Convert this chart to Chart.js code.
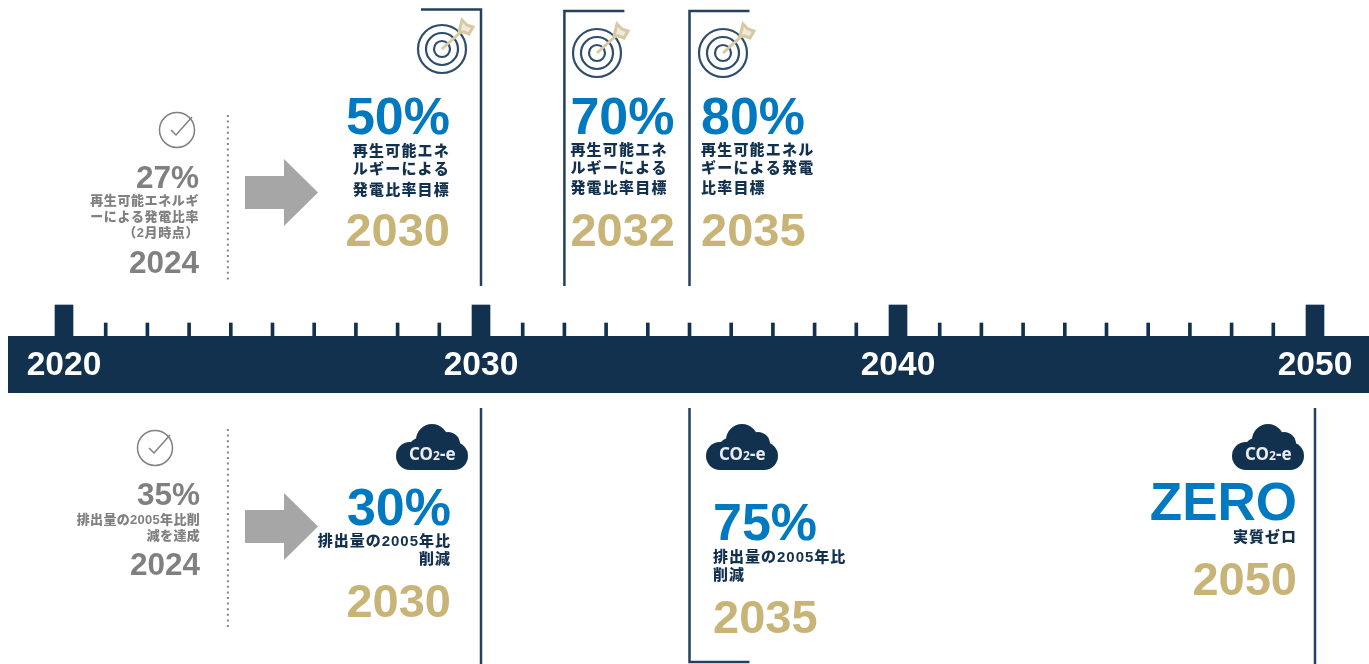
<!DOCTYPE html>
<html lang="ja">
<head>
<meta charset="utf-8">
<title>再生可能エネルギーと排出量の目標</title>
<script src="https://cdn.jsdelivr.net/npm/chart.js@4"></script>
<style>
  html, body { margin: 0; padding: 0; background: #fff; }
  canvas { display: block; }
</style>
</head>
<body>
<canvas id="timeline" width="1369" height="664"></canvas>
<script>
// Timeline values
const decadeYears = [2020, 2030, 2040, 2050];
const minorYears = [];
for (let y = 2021; y < 2050; y++) if (y % 10 !== 0) minorYears.push(y);

// Renewable share targets (above the band)
const renewYears = [2030, 2032, 2035];
const renewTargets = [50, 70, 80];
const renewCaptions = [
  ['再生可能エネ', 'ルギーによる', '発電比率目標'],
  ['再生可能エネ', 'ルギーによる', '発電比率目標'],
  ['再生可能エネル', 'ギーによる発電', '比率目標']
];

// Emission targets (below the band)
const emissionYears = [2030, 2035, 2050];
const emissionTargets = ['30%', '75%', 'ZERO'];
const emissionCaptions = [
  ['排出量の2005年比', '削減'],
  ['排出量の2005年比', '削減'],
  ['実質ゼロ']
];

// Where things stood in 2024
const statusYear = 2024;
const renewStatus = 27;
const renewStatusCaption = ['再生可能エネルギ', 'ーによる発電比率', '（2月時点）'];
const emissionStatus = 35;
const emissionStatusCaption = ['排出量の2005年比削', '減を達成'];

// Colours
const NAVY = '#12314f';
const RULE = '#23415f';
const BLUE = '#0079c1';
const GOLD = '#c9b477';
const GREY = '#808080';
const ARROW = '#a6a6a6';
const TAN = '#d6caa4';

const SANS = '"Liberation Sans", "Noto Sans CJK JP", sans-serif';

// x scale: 41.7px per year, filling the canvas
const pxPerYear = 41.7;
const xMin = 2020 - 64 / pxPerYear;
const xMax = xMin + 1369 / pxPerYear;
const flagYears = 60 / pxPerYear;
const separatorYear = 2023.93;

function ruleDataset(points) {
  return {
    type: 'line',
    data: points,
    borderColor: RULE,
    borderWidth: 2.5,
    pointRadius: 0,
    borderJoinStyle: 'miter',
    borderCapStyle: 'butt',
    order: 3
  };
}

function dottedDataset(y1, y2) {
  return {
    type: 'line',
    data: [{ x: separatorYear, y: y1 }, { x: separatorYear, y: y2 }],
    borderColor: '#858585',
    borderWidth: 2,
    borderDash: [2, 3.6],
    pointRadius: 0,
    order: 3
  };
}

const datasets = [
  // the navy band
  {
    type: 'line',
    data: [{ x: xMin + 8 / pxPerYear, y: 364.5 }, { x: xMax, y: 364.5 }],
    borderColor: NAVY,
    borderWidth: 57,
    borderCapStyle: 'butt',
    pointRadius: 0,
    order: 5
  },
  // thick ticks on each decade
  {
    type: 'bar',
    data: decadeYears.map(y => ({ x: y, y: [305, 337] })),
    backgroundColor: NAVY,
    barThickness: 18,
    grouped: false,
    order: 4
  },
  // small ticks on every other year
  {
    type: 'bar',
    data: minorYears.map(y => ({ x: y, y: [323, 337] })),
    backgroundColor: NAVY,
    barThickness: 3,
    grouped: false,
    order: 4
  },
  // target rules above the band, with their flags
  ruleDataset([{ x: 2030 - flagYears, y: 9.5 }, { x: 2030, y: 9.5 }, { x: 2030, y: 286 }]),
  ruleDataset([{ x: 2032 + flagYears, y: 11 }, { x: 2032, y: 11 }, { x: 2032, y: 286 }]),
  ruleDataset([{ x: 2035 + flagYears, y: 11 }, { x: 2035, y: 11 }, { x: 2035, y: 286 }]),
  // target rules below the band
  ruleDataset([{ x: 2030, y: 408 }, { x: 2030, y: 664 }]),
  ruleDataset([{ x: 2035, y: 408 }, { x: 2035, y: 662 }, { x: 2035 + flagYears, y: 662 }]),
  ruleDataset([{ x: 2050, y: 408 }, { x: 2050, y: 664 }]),
  // dotted separators next to the 2024 status
  dottedDataset(115, 283),
  dottedDataset(429, 628)
];

function drawText(ctx, text, x, y, font, color, align, spacing, baseline) {
  ctx.font = font;
  ctx.fillStyle = color;
  ctx.textAlign = align;
  ctx.textBaseline = baseline || 'alphabetic';
  ctx.letterSpacing = (spacing || 0) + 'px';
  ctx.fillText(text, x, y);
  ctx.letterSpacing = '0px';
}

function drawLines(ctx, lines, x, centers, font, color, align, spacing) {
  lines.forEach((line, i) => {
    drawText(ctx, line, x, centers[i], font, color, align, spacing, 'middle');
  });
}

function drawTarget(ctx, cx, cy) {
  ctx.save();
  ctx.strokeStyle = '#2f4d6b';
  ctx.lineWidth = 2.2;
  [24, 16, 8].forEach(r => {
    ctx.beginPath();
    ctx.arc(cx, cy, r, 0, Math.PI * 2);
    ctx.stroke();
  });
  // arrow
  ctx.strokeStyle = TAN;
  ctx.lineWidth = 3;
  ctx.beginPath();
  ctx.moveTo(cx, cy);
  ctx.lineTo(cx + 21, cy - 19);
  ctx.stroke();
  ctx.fillStyle = '#efe9d8';
  ctx.beginPath();
  ctx.moveTo(cx + 17, cy - 17);
  ctx.lineTo(cx + 20, cy - 29);
  ctx.lineTo(cx + 25, cy - 24);
  ctx.lineTo(cx + 31, cy - 22);
  ctx.lineTo(cx + 27, cy - 15);
  ctx.lineTo(cx + 22, cy - 17);
  ctx.closePath();
  ctx.fill();
  ctx.stroke();
  ctx.restore();
}

function drawCheck(ctx, cx, cy) {
  ctx.save();
  ctx.strokeStyle = GREY;
  ctx.lineWidth = 1.5;
  ctx.beginPath();
  ctx.arc(cx, cy, 17.5, 0, Math.PI * 2);
  ctx.stroke();
  ctx.beginPath();
  ctx.moveTo(cx - 6, cy);
  ctx.lineTo(cx - 1, cy + 5);
  ctx.lineTo(cx + 15, cy - 13);
  ctx.stroke();
  ctx.restore();
}

function drawArrow(ctx, midY) {
  ctx.fillStyle = ARROW;
  ctx.beginPath();
  ctx.moveTo(245, midY - 16.5);
  ctx.lineTo(284, midY - 16.5);
  ctx.lineTo(284, midY - 33.5);
  ctx.lineTo(318, midY);
  ctx.lineTo(284, midY + 33.5);
  ctx.lineTo(284, midY + 16.5);
  ctx.lineTo(245, midY + 16.5);
  ctx.closePath();
  ctx.fill();
}

// cloud badge, left/top corner given
function drawCloud(ctx, x, y) {
  ctx.save();
  ctx.fillStyle = NAVY;
  const lobes = [[14, 32, 14], [23, 24, 10], [36, 16, 16], [52, 20, 12], [58, 32, 14]];
  lobes.forEach(l => {
    ctx.beginPath();
    ctx.arc(x + l[0], y + l[1], l[2], 0, Math.PI * 2);
    ctx.fill();
  });
  ctx.fillRect(x + 14, y + 22, 44, 24);
  const font = 'bold 17px "Noto Sans", sans-serif';
  drawText(ctx, 'CO', x + 13, y + 36, font, '#e9edf1', 'left');
  drawText(ctx, '2', x + 37, y + 36, 'bold 12px "Noto Sans", sans-serif', '#e9edf1', 'left');
  drawText(ctx, '-e', x + 44, y + 36, font, '#e9edf1', 'left');
  ctx.restore();
}

const annotations = {
  id: 'annotations',
  afterDatasetsDraw(chart) {
    const ctx = chart.ctx;
    const xs = chart.scales.x;
    const big = px => `bold ${px}px ${SANS}`;
    const cap = px => `900 ${px}px ${SANS}`;
    ctx.save();

    // 2024 status, upper side
    drawCheck(ctx, 177, 130);
    drawText(ctx, renewStatus + '%', 199, 188, big(31.5), GREY, 'right');
    drawLines(ctx, renewStatusCaption, 199, [201, 217, 233], cap(13), GREY, 'right', 0.6);
    drawText(ctx, String(statusYear), 199, 273, big(31.5), GREY, 'right');
    drawArrow(ctx, 192.5);

    // 2024 status, lower side
    drawCheck(ctx, 155, 448);
    drawText(ctx, emissionStatus + '%', 200, 505, big(31.5), GREY, 'right');
    drawLines(ctx, emissionStatusCaption, 200, [520, 536], cap(13), GREY, 'right', 0.3);
    drawText(ctx, String(statusYear), 200, 575, big(31.5), GREY, 'right');
    drawArrow(ctx, 526.5);

    // renewable targets
    const renewPlace = [
      { dx: -31, align: 'right', icon: 442, iconY: 49, lines: [152, 170, 191] },
      { dx: 6, align: 'left', icon: 597, iconY: 53, lines: [151, 169, 189] },
      { dx: 11.5, align: 'left', icon: 723, iconY: 53, lines: [151, 169, 189] }
    ];
    renewYears.forEach((year, i) => {
      const p = renewPlace[i];
      const x = xs.getPixelForValue(year) + p.dx;
      drawTarget(ctx, p.icon, p.iconY);
      drawText(ctx, renewTargets[i] + '%', x, 134, big(52), BLUE, p.align);
      drawLines(ctx, renewCaptions[i], x, p.lines, cap(15), NAVY, p.align, 1.2);
      drawText(ctx, String(year), x, 246, big(47), GOLD, p.align);
    });

    // emission targets
    const emissionPlace = [
      { dx: -30, align: 'right', cloud: 396, big: 525, size: 52, lines: [542, 560], year: 617 },
      { dx: 23.5, align: 'left', cloud: 706, big: 540, size: 52, lines: [558, 576], year: 633 },
      { dx: -18, align: 'right', cloud: 1232, big: 520, size: 53, lines: [538], year: 595 }
    ];
    emissionYears.forEach((year, i) => {
      const p = emissionPlace[i];
      const x = xs.getPixelForValue(year) + p.dx;
      drawCloud(ctx, p.cloud, 424);
      drawText(ctx, emissionTargets[i], x, p.big, big(p.size), BLUE, p.align);
      drawLines(ctx, emissionCaptions[i], x, p.lines, cap(15), NAVY, p.align, 1);
      drawText(ctx, String(year), x, p.year, big(47), GOLD, p.align);
    });

    ctx.restore();
  }
};

new Chart(document.getElementById('timeline'), {
  type: 'bar',
  data: { datasets },
  plugins: [annotations],
  options: {
    responsive: false,
    animation: false,
    layout: { padding: 0 },
    plugins: { legend: { display: false }, tooltip: { enabled: false } },
    scales: {
      x: {
        type: 'linear',
        offset: false,
        position: { y: 346 },
        min: xMin,
        max: xMax,
        grid: { display: false, drawTicks: false },
        border: { display: false },
        afterBuildTicks: axis => { axis.ticks = decadeYears.map(v => ({ value: v })); },
        ticks: {
          z: 1,
          padding: 0,
          autoSkip: false,
          maxRotation: 0,
          color: '#ffffff',
          font: { family: 'Liberation Sans', size: 33.5, weight: 'bold' },
          callback: v => String(v)
        }
      },
      y: {
        type: 'linear',
        display: false,
        reverse: true,
        min: 0,
        max: 664
      }
    }
  }
});
</script>
</body>
</html>
